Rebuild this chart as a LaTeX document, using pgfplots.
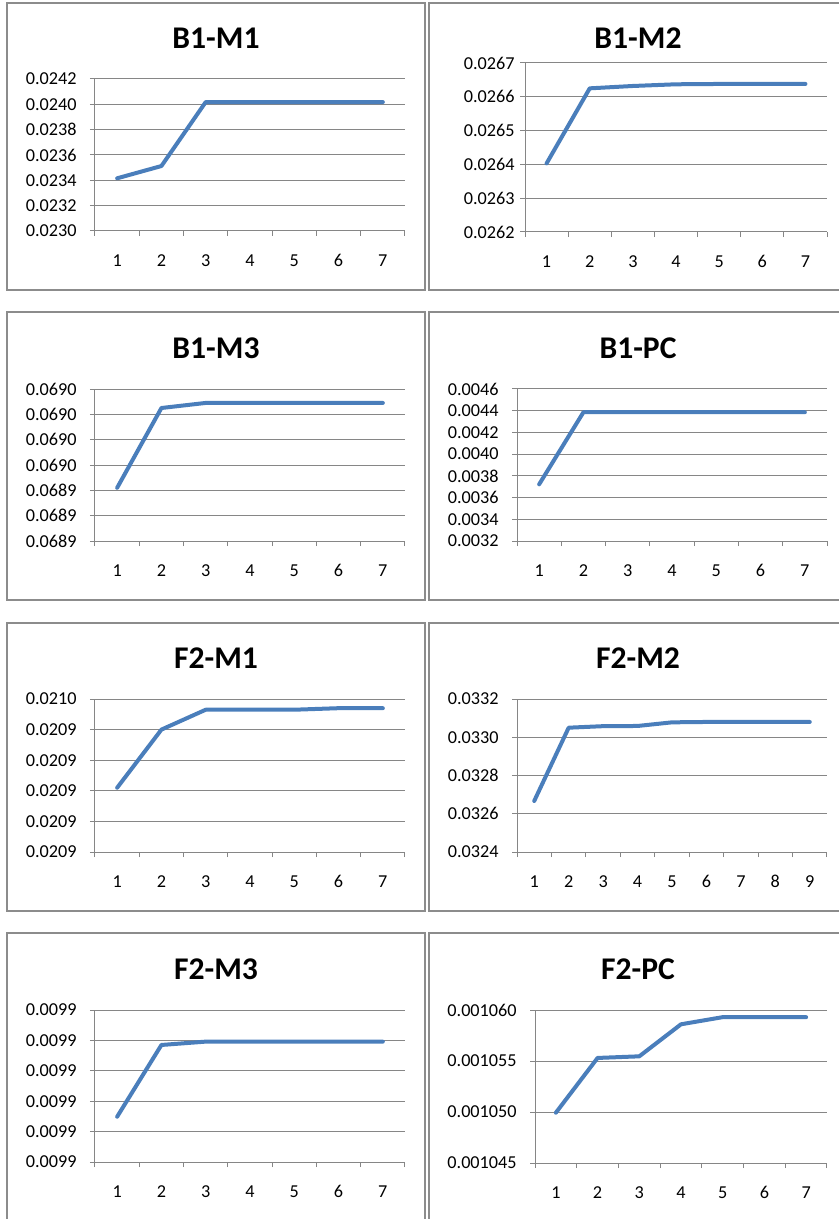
\documentclass[border=0pt]{standalone}
\usepackage{fontspec}
\setmainfont{Carlito}
\usepackage{pgfplots}
\pgfplotsset{compat=1.18}
\definecolor{gridgray}{HTML}{868686}
\definecolor{boxgray}{HTML}{8C8C8C}
\definecolor{lineblue}{HTML}{4A7EBB}
\newcommand{\ticksize}{\fontsize{9.1}{11}\selectfont}
\newcommand{\titlesize}{\fontsize{15.8}{18}\selectfont\bfseries}
\pgfplotsset{
  ser/.style={draw=lineblue, line width=2pt, line cap=round, line join=round, mark=none},
  excel/.style={
    scale only axis, anchor=south west, clip=false,
    axis x line*=bottom, axis y line*=left,
    axis line style={draw=gridgray, line width=0.5pt},
    ymajorgrids, grid style={draw=gridgray, line width=0.5pt},
    tick align=outside, major tick length=2.5pt,
    tick style={draw=gridgray, line width=0.5pt},
    x tick label as interval,
    tick label style={font=\ticksize, text=black},
    xticklabel style={anchor=north, inner sep=0pt, yshift=-9pt},
    yticklabel style={anchor=east, inner sep=0pt, xshift=-6.5pt},
    scaled y ticks=false,
    cycle list={{draw=lineblue, line width=2pt, line cap=round, line join=round, mark=none}},
    xmin=0.5, xmax=7.5,
    xtick={0.5,1.5,...,7.5}, xticklabels={1,2,3,4,5,6,7},
  }
}
\begin{document}
\begin{tikzpicture}
\useasboundingbox (0,0) rectangle (419.5pt,-609.5pt);
% panel frames
\foreach \t/\b in {1.5/145, 156/300, 311.5/455.5, 466.5/612.5}{
  \draw[boxgray, line width=0.6pt] (3.5pt,-\t pt) rectangle (212.5pt,-\b pt);
  \draw[boxgray, line width=0.6pt] (214.5pt,-\t pt) rectangle (421pt,-\b pt);
}
% titles
\node[anchor=base, inner sep=0pt] at (108pt,-24.2pt) {\titlesize B1-M1};
\node[anchor=base, inner sep=0pt] at (319pt,-24.2pt) {\titlesize B1-M2};
\node[anchor=base, inner sep=0pt] at (108pt,-179.2pt) {\titlesize B1-M3};
\node[anchor=base, inner sep=0pt] at (319pt,-179.2pt) {\titlesize B1-PC};
\node[anchor=base, inner sep=0pt] at (108pt,-334.2pt) {\titlesize F2-M1};
\node[anchor=base, inner sep=0pt] at (319pt,-334.2pt) {\titlesize F2-M2};
\node[anchor=base, inner sep=0pt] at (108pt,-489.5pt) {\titlesize F2-M3};
\node[anchor=base, inner sep=0pt] at (319pt,-489.5pt) {\titlesize F2-PC};

% B1-M1
\begin{axis}[excel, at={(47.5pt,-115.5pt)}, width=155pt, height=76pt,
  ymin=0.0230, ymax=0.0242,
  ytick={0.0230,0.0232,0.0234,0.0236,0.0238,0.0240,0.0242},
  yticklabels={0.0230,0.0232,0.0234,0.0236,0.0238,0.0240,0.0242}]
\addplot[ser] coordinates {(1,0.023416) (2,0.023513) (3,0.024018) (4,0.024018) (5,0.024018) (6,0.024018) (7,0.024018)};
\end{axis}

% B1-M2
\begin{axis}[excel, at={(262.5pt,-116pt)}, width=151pt, height=84.5pt,
  ymin=0.0262, ymax=0.0267,
  yticklabel style={xshift=4pt},
  ytick={0.0262,0.0263,0.0264,0.0265,0.0266,0.0267},
  yticklabels={0.0262,0.0263,0.0264,0.0265,0.0266,0.0267}]
\addplot[ser] coordinates {(1,0.026403) (2,0.026625) (3,0.026632) (4,0.026637) (5,0.026638) (6,0.026638) (7,0.026638)};
\end{axis}

% B1-M3
\begin{axis}[excel, at={(47.5pt,-270.5pt)}, width=155pt, height=76pt,
  ymin=0.06890, ymax=0.06902,
  ytick={0.06890,0.06892,0.06894,0.06896,0.06898,0.06900,0.06902},
  yticklabels={0.0689,0.0689,0.0689,0.0690,0.0690,0.0690,0.0690}]
\addplot[ser] coordinates {(1,0.068942) (2,0.069005) (3,0.069009) (4,0.069009) (5,0.069009) (6,0.069009) (7,0.069009)};
\end{axis}

% B1-PC
\begin{axis}[excel, at={(258.5pt,-270.5pt)}, width=155pt, height=76pt,
  ymin=0.0032, ymax=0.0046,
  ytick={0.0032,0.0034,0.0036,0.0038,0.0040,0.0042,0.0044,0.0046},
  yticklabels={0.0032,0.0034,0.0036,0.0038,0.0040,0.0042,0.0044,0.0046}]
\addplot[ser] coordinates {(1,0.003722) (2,0.004386) (3,0.004386) (4,0.004386) (5,0.004386) (6,0.004386) (7,0.004386)};
\end{axis}

% F2-M1
\begin{axis}[excel, at={(47.5pt,-426pt)}, width=155pt, height=76.5pt,
  ymin=0.02086, ymax=0.02096,
  ytick={0.02086,0.02088,0.02090,0.02092,0.02094,0.02096},
  yticklabels={0.0209,0.0209,0.0209,0.0209,0.0209,0.0210}]
\addplot[ser] coordinates {(1,0.020902) (2,0.020940) (3,0.020953) (4,0.020953) (5,0.020953) (6,0.020954) (7,0.020954)};
\end{axis}

% F2-M2
\begin{axis}[excel, at={(258.5pt,-426pt)}, width=155pt, height=76.5pt,
  xmax=9.5, xtick={0.5,1.5,...,9.5}, xticklabels={1,2,3,4,5,6,7,8,9},
  ymin=0.0324, ymax=0.0332,
  ytick={0.0324,0.0326,0.0328,0.0330,0.0332},
  yticklabels={0.0324,0.0326,0.0328,0.0330,0.0332}]
\addplot[ser] coordinates {(1,0.032667) (2,0.033050) (3,0.033058) (4,0.033059) (5,0.033078) (6,0.033080) (7,0.033080) (8,0.033080) (9,0.033080)};
\end{axis}

% F2-M3
\begin{axis}[excel, at={(47.5pt,-581pt)}, width=155pt, height=76pt,
  ymin=0.00986, ymax=0.00991,
  ytick={0.00986,0.00987,0.00988,0.00989,0.00990,0.00991},
  yticklabels={0.0099,0.0099,0.0099,0.0099,0.0099,0.0099}]
\addplot[ser] coordinates {(1,0.0098749) (2,0.0098985) (3,0.0098996) (4,0.0098996) (5,0.0098996) (6,0.0098996) (7,0.0098996)};
\end{axis}

% F2-PC
\begin{axis}[excel, at={(267.5pt,-581.5pt)}, width=146pt, height=76.5pt,
  ymin=0.001045, ymax=0.001060,
  ytick={0.001045,0.001050,0.001055,0.001060},
  yticklabels={0.001045,0.001050,0.001055,0.001060}]
\addplot[ser] coordinates {(1,0.00104993) (2,0.0010553) (3,0.00105546) (4,0.0010586) (5,0.0010593) (6,0.0010593) (7,0.0010593)};
\end{axis}
\end{tikzpicture}
\end{document}
